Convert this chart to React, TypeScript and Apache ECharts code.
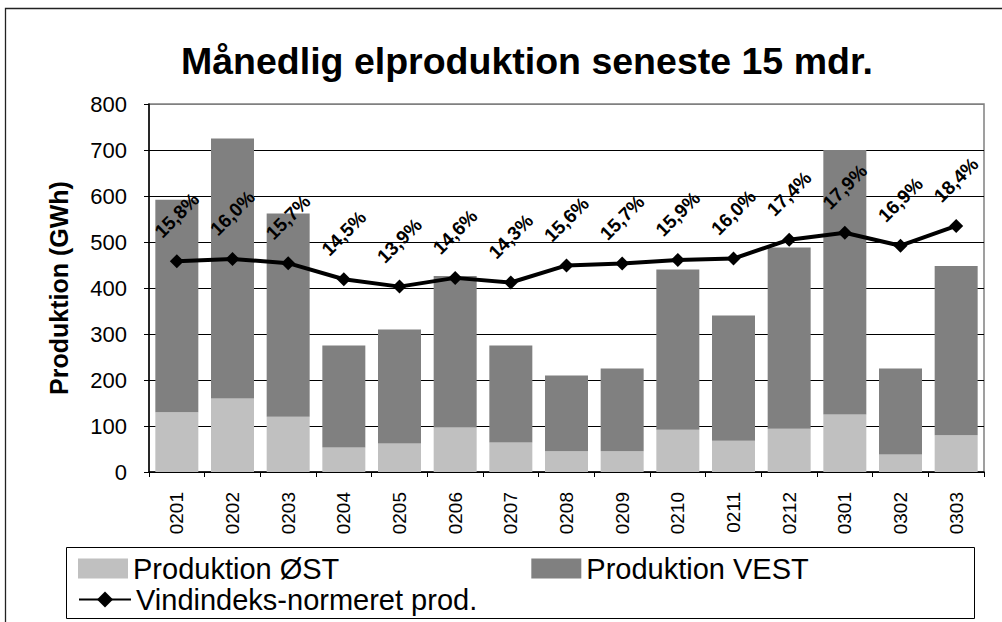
import React, { useEffect, useRef } from "react";
import * as echarts from "echarts";

const categories = ["0201", "0202", "0203", "0204", "0205", "0206", "0207", "0208", "0209", "0210", "0211", "0212", "0301", "0302", "0303"];
const produktionOst = [130, 160, 120, 53, 62, 97, 64, 45, 45, 92, 68, 94, 125, 38, 80];
const produktionVest = [462, 565, 442, 222, 248, 329, 211, 165, 180, 348, 272, 394, 575, 187, 368];
const vindindeksNormeret = [458, 463, 454, 419, 403, 422, 412, 449, 453, 461, 464, 505, 520, 492, 535];
const vindProcent = ["15,8%", "16,0%", "15,7%", "14,5%", "13,9%", "14,6%", "14,3%", "15,6%", "15,7%", "15,9%", "16,0%", "17,4%", "17,9%", "16,9%", "18,4%"];

const FONT = "'Liberation Sans', Arial, sans-serif";

export default function App() {
  const ref = useRef<HTMLDivElement>(null);

  useEffect(() => {
    if (!ref.current) return;
    const chart = echarts.init(ref.current, null, { renderer: "svg" });
    const splitColors = ["#000", "#000", "#000", "#000", "#000", "#000", "#000", "#000", "#808080"];
    chart.setOption({
      animation: false,
      backgroundColor: "#fff",
      textStyle: { fontFamily: FONT },
      title: {
        text: "Månedlig elproduktion seneste 15 mdr.",
        left: 181,
        top: 42,
        padding: 0,
        textStyle: { fontFamily: FONT, fontSize: 37.5, fontWeight: "bold", color: "#000" },
      },
      graphic: [
        {
          type: "rect",
          shape: { x: 5.5, y: 8.5, width: 1100, height: 700 },
          style: { fill: "none", stroke: "#222", lineWidth: 1.3 },
          z: 0,
          silent: true,
        },
        {
          type: "rect",
          shape: { x: 66.5, y: 547.5, width: 908, height: 71 },
          style: { fill: "#fff", stroke: "#000", lineWidth: 1 },
          z: 1,
          silent: true,
        },
      ],
      legend: [
        {
          data: ["Produktion ØST", "Produktion VEST"],
          left: 78,
          top: 554,
          padding: 0,
          itemGap: 192,
          itemWidth: 50,
          itemHeight: 20,
          icon: "rect",
          selectedMode: false,
          textStyle: { fontFamily: FONT, fontSize: 29, color: "#000" },
          z: 5,
        },
        {
          data: ["Vindindeks-normeret prod."],
          left: 78,
          top: 585,
          padding: 0,
          itemWidth: 52,
          itemHeight: 20,
          selectedMode: false,
          textStyle: { fontFamily: FONT, fontSize: 29, color: "#000" },
          z: 5,
        },
      ],
      grid: {
        left: 149,
        right: 18,
        top: 104,
        bottom: 150,
        show: true,
        borderColor: "#808080",
        borderWidth: 1.5,
        backgroundColor: "transparent",
      },
      xAxis: {
        type: "category",
        data: categories,
        boundaryGap: true,
        axisLine: { show: true, lineStyle: { color: "#000", width: 1.5 } },
        axisTick: { show: true, length: 5, lineStyle: { color: "#000", width: 1 } },
        axisLabel: { rotate: 90, fontSize: 19, color: "#000", margin: 20, fontFamily: FONT },
        splitLine: { show: false },
      },
      yAxis: {
        type: "value",
        min: 0,
        max: 800,
        interval: 100,
        name: "Produktion (GWh)",
        nameLocation: "middle",
        nameGap: 78,
        nameTextStyle: { fontFamily: FONT, fontSize: 25, fontWeight: "bold", color: "#000" },
        axisLine: { show: true, lineStyle: { color: "#000", width: 1.5 } },
        axisTick: { show: true, length: 5, lineStyle: { color: "#000", width: 1 } },
        axisLabel: { fontSize: 22, color: "#000", margin: 22, fontFamily: FONT },
        splitLine: { show: true, lineStyle: { color: splitColors, width: 1 } },
      },
      series: [
        {
          name: "Produktion ØST",
          type: "bar",
          stack: "prod",
          barWidth: 43,
          data: produktionOst,
          itemStyle: { color: "#C0C0C0" },
        },
        {
          name: "Produktion VEST",
          type: "bar",
          stack: "prod",
          barWidth: 43,
          data: produktionVest,
          itemStyle: { color: "#808080" },
        },
        {
          name: "Vindindeks-normeret prod.",
          type: "line",
          data: vindindeksNormeret,
          symbol: "diamond",
          symbolSize: 14,
          itemStyle: { color: "#000" },
          lineStyle: { color: "#000", width: 4 },
          z: 3,
          label: {
            show: true,
            position: "top",
            distance: 39,
            rotate: 45,
            align: "center",
            verticalAlign: "middle",
            fontFamily: FONT,
            fontSize: 19,
            fontWeight: "bold",
            color: "#000",
            formatter: (p: any) => vindProcent[p.dataIndex],
          },
        },
      ],
    });
    return () => chart.dispose();
  }, []);

  return (
    <div
      ref={ref}
      style={{ position: "absolute", left: 0, top: 0, width: 1002, height: 622 }}
    />
  );
}
